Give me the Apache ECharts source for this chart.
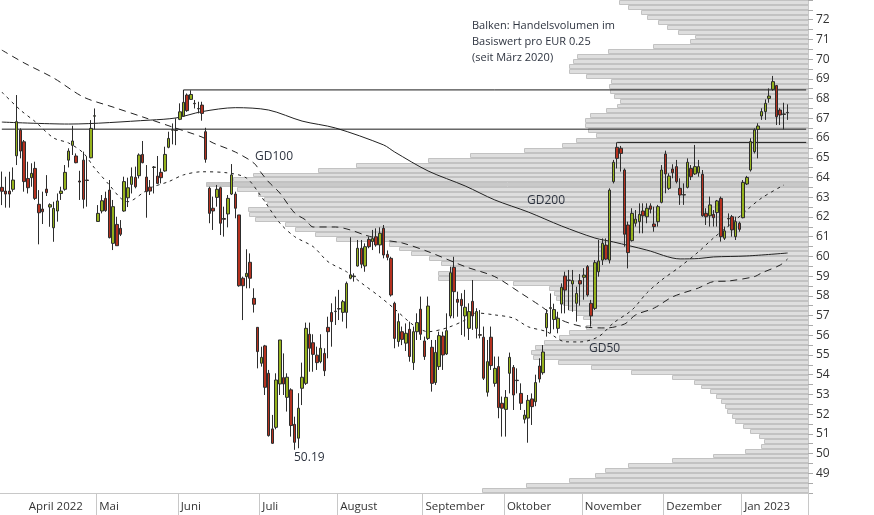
<!DOCTYPE html>
<html><head><meta charset="utf-8">
<script src="https://cdn.jsdelivr.net/npm/echarts@6/dist/echarts.min.js"></script>
<style>html,body{margin:0;padding:0;background:#fff}#c{width:874px;height:515px}</style>
</head><body><div id="c"></div>
<script>
// ---------- categories (trading days) ----------
const dates = [
'2022-03-23','2022-03-24','2022-03-25','2022-03-28','2022-03-29','2022-03-30','2022-03-31',
'2022-04-01','2022-04-04','2022-04-05','2022-04-06','2022-04-07','2022-04-08','2022-04-11','2022-04-12','2022-04-13','2022-04-14','2022-04-19','2022-04-20','2022-04-21','2022-04-22','2022-04-25','2022-04-26','2022-04-27','2022-04-28','2022-04-29',
'2022-05-02','2022-05-03','2022-05-04','2022-05-05','2022-05-06','2022-05-09','2022-05-10','2022-05-11','2022-05-12','2022-05-13','2022-05-16','2022-05-17','2022-05-18','2022-05-19','2022-05-20','2022-05-23','2022-05-24','2022-05-25','2022-05-26','2022-05-27','2022-05-30','2022-05-31',
'2022-06-01','2022-06-02','2022-06-03','2022-06-06','2022-06-07','2022-06-08','2022-06-09','2022-06-10','2022-06-13','2022-06-14','2022-06-15','2022-06-16','2022-06-17','2022-06-20','2022-06-21','2022-06-22','2022-06-23','2022-06-24','2022-06-27','2022-06-28','2022-06-29','2022-06-30',
'2022-07-01','2022-07-04','2022-07-05','2022-07-06','2022-07-07','2022-07-08','2022-07-11','2022-07-12','2022-07-13','2022-07-14','2022-07-15','2022-07-18','2022-07-19','2022-07-20','2022-07-21','2022-07-22','2022-07-25','2022-07-26','2022-07-27','2022-07-28','2022-07-29',
'2022-08-01','2022-08-02','2022-08-03','2022-08-04','2022-08-05','2022-08-08','2022-08-09','2022-08-10','2022-08-11','2022-08-12','2022-08-15','2022-08-16','2022-08-17','2022-08-18','2022-08-19','2022-08-22','2022-08-23','2022-08-24','2022-08-25','2022-08-26','2022-08-29','2022-08-30','2022-08-31',
'2022-09-01','2022-09-02','2022-09-05','2022-09-06','2022-09-07','2022-09-08','2022-09-09','2022-09-12','2022-09-13','2022-09-14','2022-09-15','2022-09-16','2022-09-19','2022-09-20','2022-09-21','2022-09-22','2022-09-23','2022-09-26','2022-09-27','2022-09-28','2022-09-29','2022-09-30',
'2022-10-03','2022-10-04','2022-10-05','2022-10-06','2022-10-07','2022-10-10','2022-10-11','2022-10-12','2022-10-13','2022-10-14','2022-10-17','2022-10-18','2022-10-19','2022-10-20','2022-10-21','2022-10-24','2022-10-25','2022-10-26','2022-10-27','2022-10-28','2022-10-31',
'2022-11-01','2022-11-02','2022-11-03','2022-11-04','2022-11-07','2022-11-08','2022-11-09','2022-11-10','2022-11-11','2022-11-14','2022-11-15','2022-11-16','2022-11-17','2022-11-18','2022-11-21','2022-11-22','2022-11-23','2022-11-24','2022-11-25','2022-11-28','2022-11-29','2022-11-30',
'2022-12-01','2022-12-02','2022-12-05','2022-12-06','2022-12-07','2022-12-08','2022-12-09','2022-12-12','2022-12-13','2022-12-14','2022-12-15','2022-12-16','2022-12-19','2022-12-20','2022-12-21','2022-12-22','2022-12-23','2022-12-27','2022-12-28','2022-12-29','2022-12-30',
'2023-01-02','2023-01-03','2023-01-04','2023-01-05','2023-01-06','2023-01-09','2023-01-10','2023-01-11','2023-01-12','2023-01-13','2023-01-16','2023-01-17','2023-01-18','2023-01-19','2023-01-20','2023-01-23','2023-01-24','2023-01-25'
];
const monthLabels = [
 ['2022-04','April 2022'],['2022-05','Mai'],['2022-06','Juni'],['2022-07','Juli'],['2022-08','August'],
 ['2022-09','September'],['2022-10','Oktober'],['2022-11','November'],['2022-12','Dezember'],['2023-01','Jan 2023']
];
const yTickLabels = [49,50,51,52,53,54,55,56,57,58,59,60,61,62,63,64,65,66,67,68,69,70,71,72];

// ---------- OHLC ----------
const open = [63.50,63.31,63.31,63.40,65.10,66.40,65.81,63.95,63.99,64.46,62.64,62.40,63.41,62.50,61.45,62.30,63.19,63.40,64.88,65.63,65.09,63.82,64.88,63.87,65.00,67.11,
61.77,62.30,62.94,63.36,60.66,61.62,61.42,62.30,62.97,63.65,64.01,64.09,65.17,64.02,63.51,64.51,64.07,64.26,64.33,65.53,66.40,66.40,
66.95,67.11,68.18,67.96,67.76,67.50,67.67,66.32,63.45,62.44,62.99,63.48,61.92,62.15,63.16,63.16,62.10,58.89,58.97,59.70,57.87,56.40,
54.58,55.46,54.07,51.25,51.33,53.53,53.85,52.85,53.23,51.48,50.78,53.31,53.56,56.05,55.62,54.99,54.66,55.08,56.40,57.15,57.20,
57.35,57.16,57.16,58.89,58.97,59.51,60.41,59.51,60.86,60.75,60.99,60.58,61.42,60.10,59.90,57.62,55.68,56.18,55.60,56.30,54.61,56.18,57.32,
55.71,55.84,55.39,53.60,54.41,55.96,55.05,56.98,59.44,57.82,57.82,56.98,56.35,57.72,56.35,56.03,55.90,53.11,55.90,53.56,54.41,52.55,
52.24,54.07,54.37,53.72,53.05,51.74,51.80,52.77,52.63,54.44,54.10,56.38,57.36,56.80,56.35,57.58,59.00,58.80,58.60,57.62,58.77,
58.94,59.48,57.62,57.36,59.22,59.81,60.57,59.81,63.79,65.53,65.48,64.38,61.59,60.80,61.68,61.76,62.30,62.01,62.56,61.64,61.76,62.74,
65.19,63.45,64.43,64.55,63.45,63.11,63.50,64.46,64.18,64.24,64.16,62.18,62.06,62.13,62.22,62.94,60.92,61.90,62.01,61.00,61.68,
61.96,63.67,64.38,65.31,66.44,67.12,67.34,68.01,68.47,68.66,67.42,67.20,67.30];
const close = [63.30,63.16,63.16,63.87,66.83,65.34,63.79,63.48,64.21,62.94,62.21,62.26,63.23,62.62,62.43,62.81,63.31,64.26,65.34,65.85,64.75,63.77,62.89,63.85,66.49,67.13,
62.18,62.82,62.32,60.95,62.52,60.54,61.12,63.79,63.48,64.04,63.53,65.14,64.75,63.28,63.31,64.53,63.70,63.99,65.17,65.98,66.42,66.38,
67.33,67.81,67.39,68.21,67.74,67.48,67.25,64.92,62.18,62.30,63.40,61.68,61.88,62.94,64.13,62.44,58.51,58.51,59.14,58.89,57.57,55.17,
54.88,53.36,50.91,50.52,53.73,55.76,53.53,53.87,51.42,50.57,52.30,53.87,56.35,55.34,55.03,54.61,55.34,54.20,56.18,56.69,57.22,
57.33,57.70,58.63,59.06,59.00,60.41,59.60,60.49,60.49,60.90,60.58,61.17,60.07,59.95,58.04,55.84,56.69,55.79,56.10,54.92,56.18,56.64,56.05,
54.92,57.48,53.56,55.13,55.98,55.00,56.23,59.17,58.21,57.67,57.50,57.42,57.20,56.98,57.20,56.00,53.82,54.66,54.46,54.32,52.33,52.30,
52.85,54.88,52.97,53.70,52.55,51.95,52.70,52.38,53.60,53.78,55.15,57.11,57.40,57.30,56.86,58.43,58.29,58.78,58.77,58.12,58.60,
59.05,58.04,56.98,59.68,59.76,60.66,59.86,63.36,64.77,64.97,65.22,61.12,60.19,62.18,61.89,62.13,62.06,62.44,62.39,61.51,62.52,64.38,
64.18,64.07,64.24,63.79,63.11,63.13,64.77,64.04,64.55,64.55,62.06,62.01,62.61,61.96,62.81,61.00,61.29,61.92,61.34,61.76,61.37,
63.75,64.00,65.82,66.41,66.61,67.34,67.76,68.13,68.86,67.08,67.17,67.22,67.28];
const low = [62.60,62.47,62.47,63.28,64.63,64.97,63.28,63.19,63.53,62.86,60.61,61.64,63.06,61.50,60.74,61.76,62.86,63.33,64.51,65.14,64.72,62.86,62.43,62.52,64.97,66.44,
61.76,62.18,62.26,60.91,60.32,60.54,61.03,62.26,62.50,63.19,63.45,63.95,64.72,61.96,63.11,63.19,63.67,63.70,64.29,65.48,65.68,65.64,
66.91,67.08,67.33,67.93,67.50,67.25,66.88,64.75,61.68,61.34,62.52,61.08,61.00,61.47,63.11,61.93,58.46,56.77,58.38,58.38,57.15,54.32,
54.41,52.97,50.86,50.49,51.23,52.97,52.97,52.13,50.86,50.19,50.27,52.46,53.48,54.15,54.15,54.24,54.58,53.93,54.83,55.42,56.52,
56.77,56.69,56.35,58.84,58.72,59.48,59.40,59.22,60.41,60.32,60.49,60.15,59.90,59.80,57.96,55.34,55.42,55.50,55.20,54.66,54.24,55.76,55.76,
54.75,55.76,53.14,53.48,54.24,54.24,55.00,56.86,56.86,56.94,56.01,55.93,55.76,56.27,55.84,55.84,53.73,52.89,54.24,53.39,51.79,50.86,
50.86,53.05,52.21,53.05,52.21,51.53,50.55,51.45,52.40,53.60,54.00,55.93,56.10,56.30,56.10,57.11,57.11,57.28,57.19,56.69,57.50,
57.80,57.96,56.44,57.28,58.97,59.56,59.81,59.64,63.70,64.46,64.30,60.49,59.39,60.75,61.51,61.17,61.17,61.68,62.18,61.25,61.51,62.69,
63.20,63.37,63.96,63.70,62.61,62.61,63.45,63.87,64.13,64.04,62.01,61.59,61.51,61.51,61.51,60.75,60.83,61.51,61.00,60.83,61.25,
61.93,63.62,64.30,65.22,64.97,66.92,66.92,67.79,68.40,66.66,66.66,66.44,66.92];
const high = [64.30,64.04,64.29,64.51,68.18,66.49,65.90,64.80,64.72,64.80,63.36,63.28,64.12,62.69,62.77,63.19,63.53,64.63,65.48,66.62,65.22,64.34,65.31,65.05,66.91,67.50,
62.60,63.11,63.28,63.87,62.86,62.01,61.84,64.04,63.99,64.51,64.55,65.22,65.85,64.63,63.87,64.58,65.09,64.46,65.56,66.32,66.74,67.00,
67.76,67.93,68.26,68.42,67.93,67.84,67.84,66.52,63.53,63.03,63.62,63.53,62.52,63.11,64.68,63.28,62.10,58.97,60.36,60.15,58.38,56.40,
55.42,55.51,54.24,51.96,54.07,55.76,55.08,54.07,53.31,51.87,53.06,54.61,56.64,56.64,56.05,55.42,56.05,55.34,56.94,57.62,57.96,
58.30,57.79,58.72,60.97,59.14,60.83,60.83,60.66,61.00,61.34,61.42,61.47,61.59,60.30,59.98,57.70,57.11,56.44,56.60,56.69,56.44,57.11,57.96,
55.93,57.96,55.76,55.76,56.18,56.18,57.11,59.48,59.98,58.21,58.13,58.30,57.62,58.80,57.37,57.28,56.44,55.76,56.44,54.92,54.92,52.89,
53.22,55.12,54.49,54.32,53.56,52.21,52.97,53.05,54.00,54.83,55.50,57.31,58.12,57.60,57.19,58.63,59.22,59.31,59.31,58.46,59.10,
59.40,59.56,57.79,59.81,60.83,60.91,60.91,63.45,64.89,65.78,65.60,64.46,61.76,62.44,62.35,62.69,62.69,62.69,62.69,62.52,62.61,64.63,
65.36,64.21,64.67,64.89,63.96,63.70,64.97,64.63,65.65,64.89,64.38,62.44,63.03,62.35,62.86,63.03,61.51,62.18,62.10,62.01,61.76,
63.87,64.08,65.99,66.49,66.75,67.51,67.96,68.52,69.15,68.69,67.51,67.79,67.71];

// ---------- moving averages [day index, value] ----------
const gd50 = [[0,68.33],[5,67.42],[9,66.83],[14,66.0],[18,65.75],[22,65.24],[25,64.48],[29,63.62],[32,62.96],[34,62.77],[38,63.21],[40,63.47],[45,63.79],[49,64.13],[54,64.29],[61,64.23],[66,63.97],[70,63.03],[75,61.69],[79,61.0],[84,60.49],[88,59.73],[93,59.22],[97,58.65],[102,57.95],[106,57.33],[111,56.52],[115,56.18],[120,56.37],[125,56.77],[128,57.13],[133,57.03],[138,56.87],[142,56.43],[147,56.18],[152,55.67],[156,55.66],[161,55.93],[165,56.62],[170,57.28],[174,58.14],[178,58.80],[183,59.48],[188,60.24],[192,60.93],[197,61.69],[201,62.35],[205,62.96],[211,63.62]];
const gd100 = [[0,70.46],[6,69.81],[14,69.04],[22,68.08],[30,67.57],[38,67.07],[46,66.56],[54,66.05],[57,65.75],[63,65.29],[68,64.73],[70,64.23],[72,63.77],[75,63.21],[79,62.20],[82,61.84],[84,61.49],[90,61.49],[94,61.34],[98,61.08],[103,60.83],[108,60.68],[115,60.24],[125,59.48],[133,58.97],[140,58.14],[145,57.53],[151,56.77],[157,56.43],[163,56.37],[168,56.57],[171,57.03],[176,57.38],[181,57.95],[188,58.40],[192,58.72],[196,58.75],[203,58.97],[205,59.16],[210,59.56],[212,59.87]];
const gd200 = [[0,66.81],[18,66.71],[40,66.91],[47,67.02],[54,67.34],[63,67.54],[72,67.42],[81,66.86],[90,66.51],[103,65.65],[106,65.29],[115,64.33],[125,63.57],[133,62.86],[142,62.25],[151,61.54],[160,60.93],[165,60.73],[174,60.32],[183,59.87],[188,59.89],[192,59.97],[201,60.02],[212,60.17]];

// ---------- horizontal levels: [start day index, start value, level] ----------
const levelLines = [[49,67.93,68.44],[0,66.45,66.45],[166,65.78,65.78]];

// ---------- volume profile, bins of EUR 0.25 from 73.00 downwards ----------
const profileTop = 73, profileStep = 0.25;
const profileVolumes = [189,180,167,161,150,141,130,113,118,155,200,232,236,240,240,223,197,199,198,194,188,191,203,219,224,224,221,213,233,247,
285,339,381,453,491,556,576,603,572,551,545,542,561,560,554,524,514,494,473,420,410,398,380,368,358,371,371,296,260,255,
253,246,241,233,226,218,223,240,250,265,274,278,276,251,218,177,136,114,107,98,92,87,83,81,76,73,65,58,49,44,
47,63,95,136,180,204,214,240,283,327];

const annotations = [
 {text:'GD100', x:255, y:151},
 {text:'GD200', x:527, y:195},
 {text:'GD50', x:589, y:343},
 {text:'50.19', x:294, y:452}
];
const noteText = 'Balken: Handelsvolumen im\nBasiswert pro EUR 0.25\n(seit März 2020)';

// ---------- build ----------
const FONT = '"Open Sans", "DejaVu Sans", sans-serif';
const monthStart = new Map();
let prevM = null, firstMonthIdx = -1;
dates.forEach((d, i) => {
  const m = d.slice(0, 7);
  if (m !== prevM) {
    const lab = monthLabels.find(x => x[0] === m);
    if (lab) { monthStart.set(i, lab[1]); if (firstMonthIdx < 0) firstMonthIdx = i; }
    prevM = m;
  }
});
const candles = open.map((o, i) => [o, close[i], low[i], high[i]]);
const maxVol = Math.max(...profileVolumes);
const profileData = profileVolumes.map((v, k) => [v, profileTop - (k + 1) * profileStep]);
const lastIdx = dates.length - 1;

const chart = echarts.init(document.getElementById('c'), null, {renderer: 'canvas'});
const maLine = (name, data, type) => ({
  name, type: 'line', data, symbol: 'none', smooth: 0.3, z: 3, silent: true,
  lineStyle: {color: '#222', width: 1, type}
});
const series = [
  {
    type: 'custom', xAxisIndex: 1, yAxisIndex: 0, z: 1, silent: true, clip: true,
    encode: {x: 0, y: 1},
    data: profileData,
    renderItem: function (params, api) {
      const vol = api.value(0), lo = api.value(1);
      const a = api.coord([vol, lo + profileStep]);
      const b = api.coord([0, lo]);
      const y0 = Math.round(a[1]), y1 = Math.round(b[1]);
      const x0 = Math.round(a[0]);
      return {
        type: 'rect',
        shape: {x: x0 + 0.5, y: y0 + 0.5, width: b[0] - x0, height: Math.max(1, y1 - y0 - 1)},
        style: {fill: vol === maxVol ? '#c9c9c9' : '#dedede', stroke: '#c2c2c2', lineWidth: 1}
      };
    }
  },
  maLine('GD200', gd200, 'solid'),
  maLine('GD100', gd100, [7, 5]),
  maLine('GD50', gd50, [3, 4]),
];
levelLines.forEach(l => {
  series.push({
    type: 'line', symbol: 'none', z: 3, silent: true,
    data: [[l[0], l[1]], [l[0], l[2]], [lastIdx, l[2]]],
    lineStyle: {color: '#1a1a1a', width: 1}
  });
});
series.push({
  type: 'candlestick', z: 4, data: candles, barWidth: 3, silent: true,
  itemStyle: {color: '#95b21c', color0: '#b5311f', borderColor: '#2d2d2d', borderColor0: '#2d2d2d', borderWidth: 1}
});

const graphics = annotations.map(a => ({
  type: 'text', left: a.x, top: a.y, z: 10,
  style: {text: a.text, font: '12px ' + FONT, fill: '#2e3440'}
}));
graphics.push({
  type: 'text', left: 472, top: 18, z: 10,
  style: {text: noteText, font: '11px ' + FONT, fill: '#2e3440', lineHeight: 16}
});

chart.setOption({
  animation: false,
  backgroundColor: '#fff',
  grid: {left: -2, right: 66, top: 0, bottom: 22, containLabel: false},
  xAxis: [
    {
      type: 'category', data: dates, boundaryGap: true, position: 'bottom',
      axisLine: {show: true, lineStyle: {color: '#c8c8c8', width: 1}},
      axisTick: {show: true, length: 22, interval: (i) => monthStart.has(i) && i !== firstMonthIdx, lineStyle: {color: '#c8c8c8'}},
      axisLabel: {
        interval: (i) => monthStart.has(i),
        formatter: (v, i) => monthStart.get(i) || '',
        align: 'left', margin: 8, color: '#333', fontSize: 11.5, fontFamily: FONT,
        padding: [0, 0, 0, 1]
      },
      splitLine: {show: false}
    },
    {type: 'value', inverse: true, min: 0, max: 810, show: false}
  ],
  yAxis: [{
    type: 'value', min: 48, max: 73, interval: 1, position: 'right', scale: true,
    axisLine: {show: true, lineStyle: {color: '#c8c8c8'}},
    axisTick: {show: true, length: 5, lineStyle: {color: '#aaa'}},
    minorTick: {show: true, splitNumber: 2, length: 5, lineStyle: {color: '#aaa'}},
    axisLabel: {
      margin: 8, color: '#333', fontSize: 12, fontFamily: FONT,
      formatter: (v) => yTickLabels.indexOf(v) >= 0 ? String(v) : ''
    },
    splitLine: {show: false}
  }],
  series,
  graphic: graphics
});
</script></body></html>
